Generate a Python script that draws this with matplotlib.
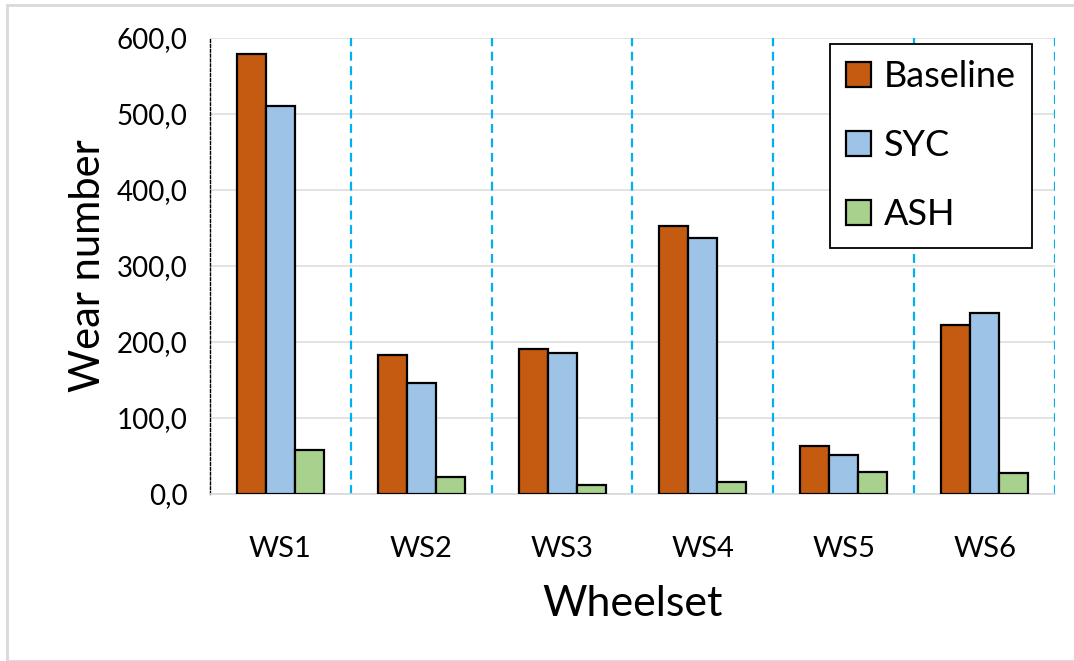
import matplotlib
matplotlib.use("Agg")
import matplotlib.pyplot as plt
import numpy as np
from matplotlib.patches import Rectangle
from matplotlib.ticker import FuncFormatter

plt.rcParams['font.family'] = ['Lato', 'DejaVu Sans']

categories = ["WS1", "WS2", "WS3", "WS4", "WS5", "WS6"]
series_names = ["Baseline", "SYC", "ASH"]
baseline = [579, 183, 191, 353, 63, 222]
syc = [510, 146, 186, 337, 51, 238]
ash = [58, 22, 12, 16, 29, 27]
colors = ["#C55A11", "#9DC3E6", "#A9D18E"]
yticks = [0, 100, 200, 300, 400, 500, 600]

fig = plt.figure(figsize=(10.74, 6.61), dpi=100)
ax = fig.add_axes([210/1074, 1-494/661, (1055-210)/1074, (494-38)/661])

x = np.arange(len(categories))
w = 0.206
for i, (vals, name, c) in enumerate(zip([baseline, syc, ash], series_names, colors)):
    ax.bar(x + (i-1)*w, vals, w, color=c, edgecolor="black", linewidth=1.6, label=name, zorder=3)

ax.set_xlim(-0.5, len(categories)-0.5)
ax.set_ylim(0, 600)
ax.set_yticks(yticks)
ax.yaxis.set_major_formatter(FuncFormatter(lambda v, p: f"{v:.1f}".replace(".", ",")))
ax.set_xticks(x)
ax.set_xticklabels(categories)
ax.tick_params(axis='y', length=0, labelsize=20, pad=16)
ax.tick_params(axis='x', length=0, labelsize=21, pad=30)
ax.grid(axis='y', color="#DEDEDE", linewidth=1.2, zorder=0)

for b in np.arange(0.5, len(categories)-0.5+0.01, 1.0):
    ax.axvline(b, color="#00B0F0", linestyle=(0, (4, 2.5)), linewidth=1.6, zorder=2)

for s in ["top", "right"]:
    ax.spines[s].set_visible(False)
ax.spines["left"].set_linestyle((0, (2, 1.5)))
ax.spines["left"].set_linewidth(1.0)
ax.spines["left"].set_color("black")
ax.spines["bottom"].set_color("#D9D9D9")
ax.spines["bottom"].set_linewidth(1.2)

ax.set_ylabel("Wear number", fontsize=30)
ax.yaxis.set_label_coords(-0.122, 0.5)
ax.set_xlabel("Wheelset", fontsize=31)
ax.xaxis.set_label_coords(0.5, -0.2)

leg = ax.legend(loc="upper right", bbox_to_anchor=(1032/1074, 1-44/661), bbox_transform=fig.transFigure,
                fontsize=26, frameon=True, fancybox=False, edgecolor="black", framealpha=1,
                handlelength=0.7, handleheight=0.7, handletextpad=0.35, labelspacing=1.0,
                borderpad=0.45, borderaxespad=0)
leg.get_frame().set_linewidth(1.3)

fig.patches.append(Rectangle((7/1074, 0), 1.0, 1-5/661, transform=fig.transFigure,
                             fill=False, edgecolor="#D9D9D9", linewidth=2.0))

fig.savefig("out.png", dpi=100)
